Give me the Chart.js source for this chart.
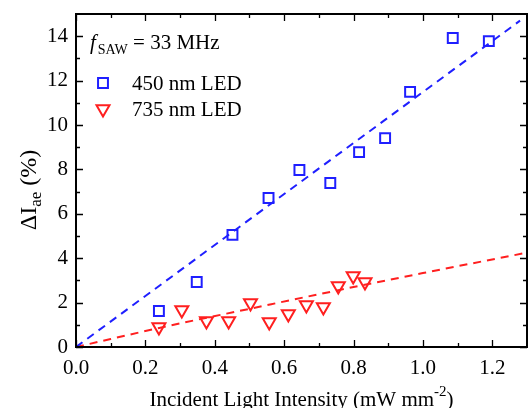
<!DOCTYPE html>
<html>
<head>
<meta charset="utf-8">
<script src="https://cdn.jsdelivr.net/npm/chart.js@4/dist/chart.umd.min.js"></script>
<style>
html,body{margin:0;padding:0;background:#fff;}
#wrap{width:532px;height:408px;position:relative;}
</style>
</head>
<body>
<div id="wrap"><canvas id="c" width="532" height="408"></canvas></div>
<script>
// ---- data ----
const blueX = [0.239, 0.348, 0.451, 0.555, 0.644, 0.733, 0.816, 0.891, 0.963, 1.086, 1.190];
const blueY = [1.62, 2.93, 5.05, 6.71, 7.97, 7.39, 8.78, 9.41, 11.49, 13.92, 13.78];
const redX = [0.239, 0.305, 0.376, 0.440, 0.503, 0.557, 0.612, 0.664, 0.713, 0.756, 0.799, 0.833];
const redY = [0.90, 1.67, 1.17, 1.17, 1.98, 1.13, 1.49, 1.89, 1.80, 2.75, 3.20, 2.93];
const blueFitX = [0, 1.28];
const blueFitY = [0, 14.7];
const redFitX = [0, 0.1, 0.24, 0.5, 0.8, 1.0, 1.3];
const redFitY = [0, 0.36, 0.86, 1.72, 2.7, 3.33, 4.25];
const xTicks = [0.0, 0.2, 0.4, 0.6, 0.8, 1.0, 1.2];
const yTicks = [0, 2, 4, 6, 8, 10, 12, 14];
const xMinor = [0.1, 0.3, 0.5, 0.7, 0.9, 1.1];
const yMinor = [1, 3, 5, 7, 9, 11, 13];
const seriesLabels = ['450 nm LED', '735 nm LED'];

const BLUE = '#1f1fff';
const RED = '#ff1f1f';
const FONT = '"Liberation Serif", "Times New Roman", serif';

const zip = (xs, ys) => xs.map((x, i) => ({x, y: ys[i]}));

const decor = {
  id: 'decor',
  beforeDraw(chart) {
    const ctx = chart.ctx;
    ctx.save();
    ctx.fillStyle = '#fff';
    ctx.fillRect(0, 0, chart.width, chart.height);
    ctx.restore();
  },
  afterDraw(chart) {
    const ctx = chart.ctx;
    const a = chart.chartArea;
    const xs = chart.scales.x, ys = chart.scales.y;
    ctx.save();
    ctx.strokeStyle = '#000';
    ctx.lineWidth = 2;
    ctx.strokeRect(a.left, a.top, a.right - a.left, a.bottom - a.top);
    ctx.lineWidth = 1.3;
    ctx.beginPath();
    const tick = (vals, len) => {
      vals.forEach(v => {
        const px = Math.round(xs.getPixelForValue(v)) + 0.5;
        ctx.moveTo(px, a.bottom); ctx.lineTo(px, a.bottom - len);
        ctx.moveTo(px, a.top); ctx.lineTo(px, a.top + len);
      });
    };
    const tickY = (vals, len) => {
      vals.forEach(v => {
        const py = Math.round(ys.getPixelForValue(v)) + 0.5;
        ctx.moveTo(a.left, py); ctx.lineTo(a.left + len, py);
        ctx.moveTo(a.right, py); ctx.lineTo(a.right - len, py);
      });
    };
    tick(xTicks, 7); tick(xMinor, 4);
    tickY(yTicks, 7); tickY(yMinor, 4);
    ctx.stroke();

    ctx.fillStyle = '#000';
    ctx.textBaseline = 'alphabetic';
    ctx.textAlign = 'left';
    // x title
    const cx = (a.left + a.right) / 2;
    const t1 = 'Incident Light Intensity (mW mm';
    const t2 = '-2';
    const t3 = ')';
    ctx.font = '21px ' + FONT; const w1 = ctx.measureText(t1).width; const w3 = ctx.measureText(t3).width;
    ctx.font = '15px ' + FONT; const w2 = ctx.measureText(t2).width;
    let x0 = cx - (w1 + w2 + w3) / 2;
    const by = 406;
    ctx.font = '21px ' + FONT; ctx.fillText(t1, x0, by);
    ctx.font = '15px ' + FONT; ctx.fillText(t2, x0 + w1, by - 10);
    ctx.font = '21px ' + FONT; ctx.fillText(t3, x0 + w1 + w2, by);

    // y title (rotated)
    ctx.save();
    ctx.translate(36, 190);
    ctx.rotate(-Math.PI / 2);
    const y1 = '\u0394I', y2 = 'ae', y3 = ' (%)';
    ctx.font = '24px ' + FONT; const v1 = ctx.measureText(y1).width; const v3 = ctx.measureText(y3).width;
    ctx.font = '17px ' + FONT; const v2 = ctx.measureText(y2).width;
    let s = -(v1 + v2 + v3) / 2;
    ctx.font = '24px ' + FONT; ctx.fillText(y1, s, 0);
    ctx.font = '17px ' + FONT; ctx.fillText(y2, s + v1, 5);
    ctx.font = '24px ' + FONT; ctx.fillText(y3, s + v1 + v2, 0);
    ctx.restore();

    // annotation f_SAW = 33 MHz
    ctx.font = 'italic 21px ' + FONT;
    ctx.fillText('f', 90, 49);
    const fw = ctx.measureText('f').width;
    ctx.font = '14px ' + FONT;
    ctx.fillText('SAW', 90 + fw + 2, 54);
    const sw = ctx.measureText('SAW').width;
    ctx.font = '21px ' + FONT;
    ctx.fillText(' = 33 MHz', 90 + fw + 2 + sw, 49);

    // legend
    const ds = chart.data.datasets;
    ctx.font = '21px ' + FONT;
    ctx.fillText(seriesLabels[0], 132, 90);
    ctx.fillText(seriesLabels[1], 132, 116);
    ctx.fillStyle = 'rgba(0,0,0,0)';
    ctx.strokeStyle = BLUE; ctx.lineWidth = 2;
    Chart.helpers.drawPoint(ctx, {pointStyle: 'rect', radius: ds[0].pointRadius, borderWidth: 2}, 103, 83);
    ctx.strokeStyle = RED;
    Chart.helpers.drawPoint(ctx, {pointStyle: 'triangle', radius: ds[1].pointRadius, rotation: 180, borderWidth: 2}, 103, 109);
    ctx.restore();
  }
};

new Chart(document.getElementById('c'), {
  type: 'scatter',
  data: {
    datasets: [
      {label: seriesLabels[0], data: zip(blueX, blueY), pointStyle: 'rect', pointRadius: 7,
       borderColor: BLUE, backgroundColor: 'rgba(0,0,0,0)', borderWidth: 2, pointBorderWidth: 2, order: 1},
      {label: seriesLabels[1], data: zip(redX, redY), pointStyle: 'triangle', pointRotation: 180, pointRadius: 7.5,
       borderColor: RED, backgroundColor: 'rgba(0,0,0,0)', borderWidth: 2, pointBorderWidth: 2, order: 1},
      {label: 'fit450', data: zip(blueFitX, blueFitY), showLine: true, pointRadius: 0,
       borderColor: BLUE, borderWidth: 2, borderDash: [8, 6], fill: false, order: 2},
      {label: 'fit735', data: zip(redFitX, redFitY), showLine: true, pointRadius: 0, cubicInterpolationMode: 'monotone',
       borderColor: RED, borderWidth: 2, borderDash: [8, 6], fill: false, order: 2}
    ]
  },
  options: {
    responsive: false,
    animation: false,
    devicePixelRatio: 1,
    layout: {autoPadding: false, padding: {left: 0, right: 5, top: 14, bottom: 0}},
    plugins: {legend: {display: false}, tooltip: {enabled: false}},
    scales: {
      x: {
        type: 'linear', min: 0, max: 1.3,
        afterBuildTicks: s => { s.ticks = xTicks.map(v => ({value: v})); },
        afterFit: s => { s.height = 61; s.paddingLeft = 0; s.paddingRight = 0; },
        grid: {display: false, drawTicks: false},
        border: {display: false},
        ticks: {color: '#000', padding: 9, font: {family: FONT, size: 21}, callback: v => Number(v).toFixed(1), maxRotation: 0, autoSkip: false}
      },
      y: {
        type: 'linear', min: 0, max: 15,
        afterBuildTicks: s => { s.ticks = yTicks.map(v => ({value: v})); },
        afterFit: s => { s.width = 76; s.paddingTop = 0; s.paddingBottom = 0; },
        grid: {display: false, drawTicks: false},
        border: {display: false},
        ticks: {color: '#000', padding: 8, font: {family: FONT, size: 21}, autoSkip: false}
      }
    }
  },
  plugins: [decor]
});
</script>
</body>
</html>
